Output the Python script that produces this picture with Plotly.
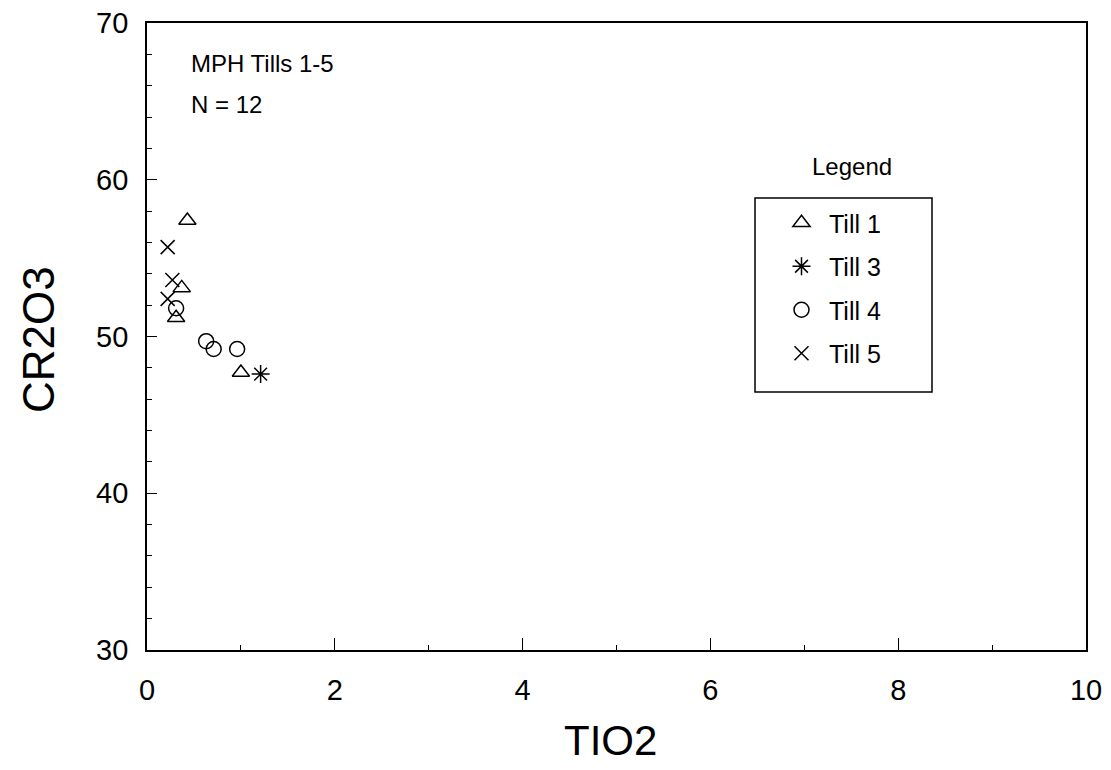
import plotly.graph_objects as go

# Data (TiO2 vs Cr2O3) per till
till1_x = [0.43, 0.37, 0.31, 1.00]
till1_y = [57.4, 53.1, 51.2, 47.7]
till3_x = [1.21]
till3_y = [47.6]
till4_x = [0.31, 0.63, 0.71, 0.96]
till4_y = [51.8, 49.7, 49.2, 49.2]
till5_x = [0.22, 0.27, 0.22]
till5_y = [55.7, 53.6, 52.4]

series_names = ["Till 1", "Till 3", "Till 4", "Till 5"]
series_x = [till1_x, till3_x, till4_x, till5_x]
series_y = [till1_y, till3_y, till4_y, till5_y]
symbols = ["triangle-up-open", "asterisk-open", "circle-open", "x-thin-open"]

FONT = "Liberation Sans, Arial, sans-serif"
NARROW = "Liberation Sans Narrow, Arial Narrow, Liberation Sans, sans-serif"
W, H = 1111, 770
PL, PT, PR, PB = 147, 23, 1086, 650  # plot area in page pixels
pw, ph = PR - PL, PB - PT
L, T, R, B = PL, PT, W - PR, H - PB

fig = go.Figure()
for n, xs, ys, s in zip(series_names, series_x, series_y, symbols):
    fig.add_trace(go.Scatter(
        x=xs, y=ys, mode="markers", name=n, legendgroup=n,
        marker=dict(symbol=s, size=15 if "x" not in s else 14, color="black",
                    line=dict(color="black", width=1.5)),
    ))

def pxx(px):  # page px -> paper x
    return (px - PL) / pw

def pxy(py):  # page px -> paper y
    return 1 - (py - PT) / ph

fig.update_layout(
    width=W, height=H,
    margin=dict(l=L, r=R, t=T, b=B, autoexpand=False),
    paper_bgcolor="white", plot_bgcolor="white",
    font=dict(family=FONT, color="black"),
    showlegend=True,
    legend=dict(
        x=pxx(774), y=pxy(200), xanchor="left", yanchor="top",
        bgcolor="rgba(0,0,0,0)", borderwidth=0,
        font=dict(size=25, family=NARROW, color="black"),
        tracegroupgap=8, itemwidth=45,
    ),
    shapes=[dict(type="rect", xref="paper", yref="paper",
                 x0=pxx(755), x1=pxx(932), y0=pxy(392), y1=pxy(198),
                 line=dict(color="black", width=1.5), fillcolor="rgba(0,0,0,0)")],
    annotations=[
        dict(text="MPH Tills 1-5", xref="paper", yref="paper",
             x=pxx(189), y=pxy(63), xanchor="left", yanchor="middle",
             showarrow=False, font=dict(size=24, family=FONT, color="black")),
        dict(text="N = 12", xref="paper", yref="paper",
             x=pxx(189), y=pxy(104), xanchor="left", yanchor="middle",
             showarrow=False, font=dict(size=24, family=FONT, color="black")),
        dict(text="Legend", xref="paper", yref="paper",
             x=pxx(852), y=pxy(166), xanchor="center", yanchor="middle",
             showarrow=False, font=dict(size=24, family=NARROW, color="black")),
        dict(text="TIO2", xref="paper", yref="paper",
             x=pxx(610), y=pxy(740), xanchor="center", yanchor="middle",
             showarrow=False, font=dict(size=42, family=FONT, color="black")),
        dict(text="CR2O3", xref="paper", yref="paper", textangle=-90,
             x=pxx(38), y=pxy(340), xanchor="center", yanchor="middle",
             showarrow=False, font=dict(size=44, family=FONT, color="black")),
    ],
)

fig.update_xaxes(
    range=[0, 10], tickmode="array", tickvals=[0, 2, 4, 6, 8, 10],
    ticks="inside", ticklen=12, tickwidth=1.4, tickcolor="black",
    minor=dict(dtick=1, ticks="inside", ticklen=5, tickwidth=1, tickcolor="black"),
    showline=True, linecolor="black", linewidth=1.7, mirror=True,
    showgrid=False, zeroline=False, automargin=False, ticklabeloverflow="allow",
    tickfont=dict(size=29, family=NARROW, color="black"), ticklabelstandoff=13,
)
fig.update_yaxes(
    range=[30, 70], tickmode="array", tickvals=[30, 40, 50, 60, 70],
    ticks="inside", ticklen=10, tickwidth=1.4, tickcolor="black",
    minor=dict(dtick=2, ticks="inside", ticklen=5, tickwidth=1, tickcolor="black"),
    showline=True, linecolor="black", linewidth=1.7, mirror=True,
    showgrid=False, zeroline=False, automargin=False, ticklabeloverflow="allow",
    tickfont=dict(size=29, family=NARROW, color="black"), ticklabelstandoff=11,
)

fig.write_html("out.html",
               config={"displayModeBar": False},
               post_script="document.body.style.margin='0px';document.body.style.overflow='hidden';")
